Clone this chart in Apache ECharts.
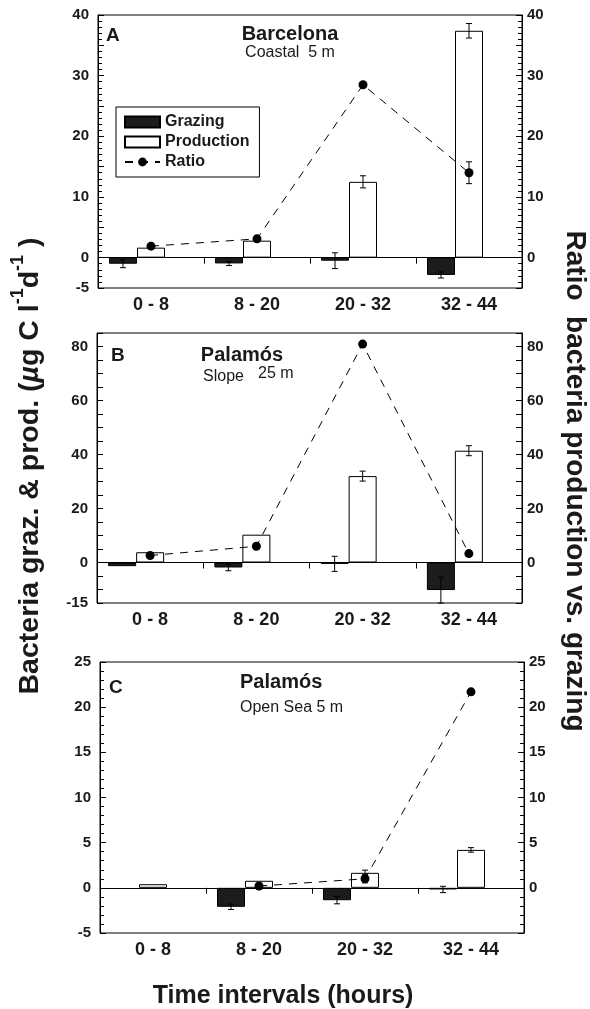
<!DOCTYPE html>
<html>
<head>
<meta charset="utf-8">
<script src="https://cdn.jsdelivr.net/npm/echarts@6/dist/echarts.min.js"></script>
<style>
  html, body { margin: 0; padding: 0; background: #fff; }
  #chart { width: 590px; height: 1009px; }
</style>
</head>
<body>
<div id="chart"></div>
<script>
const categories = ['0 - 8', '8 - 20', '20 - 32', '32 - 44']

// A  Barcelona, coastal 5 m
const grazingA = [-1.0, -0.95, -0.5, -2.85]
const grazingErrA = [0.65, 0.35, 1.3, 0.5]
const productionA = [1.65, 2.8, 12.5, 37.4]
const productionErrA = [null, null, 1.0, 1.2]
const ratioA = [1.9, 3.1, 28.5, 14.0]
const ratioErrA = [null, null, 0.4, 1.8]

// B  Palamós, slope 25 m
const grazingB = [-1.35, -1.85, -0.5, -10.2]
const grazingErrB = [null, 1.2, 2.8, 4.8]
const productionB = [3.8, 10.3, 32.0, 41.4]
const productionErrB = [null, null, 1.85, 1.85]
const ratioB = [2.6, 6.0, 80.9, 3.3]
const ratioErrB = [null, null, null, null]

// C  Palamós, open sea 5 m
const grazingC = [null, -2.1, -1.37, -0.18]
const grazingErrC = [null, 0.3, 0.4, 0.35]
const productionC = [0.4, 0.78, 1.66, 4.2]
const productionErrC = [null, null, 0.3, 0.25]
const ratioC = [null, 0.2, 1.0, 21.7]
const ratioErrC = [null, null, 0.45, null]

const FONT = '"Liberation Sans", Arial, sans-serif'
const BAR_W = 28

const panels = [
  {
    grid: { left: 98, top: 15, width: 424, height: 273 },
    min: -5, max: 40, minor: 5,
    leftLabel: v => (v % 10 === 0 || v === -5) ? String(v) : '',
    rightLabel: v => (v % 10 === 0 && v >= 0) ? String(v) : '',
    grazing: grazingA, grazingErr: grazingErrA,
    production: productionA, productionErr: productionErrA,
    ratio: ratioA, ratioErr: ratioErrA
  },
  {
    grid: { left: 97, top: 333, width: 425, height: 270 },
    min: -15, max: 85, minor: 0,
    leftLabel: v => ((v % 20 === 0 && v >= 0) || v === -15) ? String(v) : '',
    rightLabel: v => (v % 20 === 0 && v >= 0) ? String(v) : '',
    grazing: grazingB, grazingErr: grazingErrB,
    production: productionB, productionErr: productionErrB,
    ratio: ratioB, ratioErr: ratioErrB
  },
  {
    grid: { left: 100, top: 662, width: 424, height: 271 },
    min: -5, max: 25, minor: 5,
    leftLabel: v => String(v),
    rightLabel: v => v >= 0 ? String(v) : '',
    grazing: grazingC, grazingErr: grazingErrC,
    production: productionC, productionErr: productionErrC,
    ratio: ratioC, ratioErr: ratioErrC
  }
]

const errorSeries = (gi, values, errs, offset) => {
  const data = []
  values.forEach((v, i) => {
    if (v != null && errs[i] != null) data.push([i, v - errs[i], v + errs[i]])
  })
  return {
    type: 'custom',
    xAxisIndex: gi * 2,
    yAxisIndex: gi * 2,
    silent: true,
    z: 6,
    data: data,
    encode: { x: 0, y: [1, 2] },
    renderItem: (params, api) => {
      const lo = api.coord([api.value(0), api.value(1)])
      const hi = api.coord([api.value(0), api.value(2)])
      const x = lo[0] + offset
      const st = { stroke: '#000', lineWidth: 1 }
      return {
        type: 'group',
        children: [
          { type: 'line', shape: { x1: x, y1: lo[1], x2: x, y2: hi[1] }, style: st },
          { type: 'line', shape: { x1: x - 3, y1: lo[1], x2: x + 3, y2: lo[1] }, style: st },
          { type: 'line', shape: { x1: x - 3, y1: hi[1], x2: x + 3, y2: hi[1] }, style: st }
        ]
      }
    }
  }
}

const grids = []
const xAxes = []
const yAxes = []
const series = []

panels.forEach((p, gi) => {
  grids.push(Object.assign({ show: true, borderColor: '#000', borderWidth: 1, backgroundColor: 'transparent' }, p.grid))

  xAxes.push({
    type: 'category', gridIndex: gi, data: categories, position: 'bottom',
    axisLine: { show: false }, axisTick: { show: false },
    axisLabel: { color: '#1a1a1a', fontFamily: FONT, fontWeight: 'bold', fontSize: 18, margin: 8 }
  })
  xAxes.push({
    type: 'category', gridIndex: gi, data: categories, position: 'top',
    axisLine: { show: false }, axisLabel: { show: false },
    axisTick: { show: true, inside: true, length: 6, lineStyle: { color: '#000' } }
  })

  const yBase = {
    type: 'value', gridIndex: gi, min: p.min, max: p.max, interval: 5,
    splitLine: { show: false },
    axisLine: { show: true, lineStyle: { color: '#000', width: 1 } },
    axisTick: { show: true, inside: true, length: 6, lineStyle: { color: '#000', width: 1 } },
    minorTick: { show: p.minor > 0, splitNumber: p.minor || 5, length: 4, lineStyle: { color: '#000', width: 1 } },
    minorSplitLine: { show: false }
  }
  yAxes.push(Object.assign({}, yBase, {
    position: 'left',
    axisLabel: { formatter: p.leftLabel, color: '#1a1a1a', fontFamily: FONT, fontWeight: 'bold', fontSize: 15, margin: 9, showMinLabel: true, showMaxLabel: true }
  }))
  yAxes.push(Object.assign({}, yBase, {
    position: 'right',
    axisLabel: { formatter: p.rightLabel, color: '#1a1a1a', fontFamily: FONT, fontWeight: 'bold', fontSize: 15, margin: 5, showMinLabel: true, showMaxLabel: true }
  }))

  series.push({
    name: 'Grazing', type: 'bar', xAxisIndex: gi * 2, yAxisIndex: gi * 2,
    data: p.grazing, barWidth: BAR_W, barGap: 0,
    itemStyle: { color: '#1c1c1c', borderColor: '#000', borderWidth: 1 },
    silent: true
  })
  series.push({
    name: 'Production', type: 'bar', xAxisIndex: gi * 2, yAxisIndex: gi * 2,
    data: p.production, barWidth: BAR_W, barGap: 0,
    itemStyle: { color: '#fff', borderColor: '#000', borderWidth: 1 },
    silent: true,
    markLine: {
      silent: true, symbol: 'none', label: { show: false },
      lineStyle: { color: '#000', width: 1, type: 'solid' },
      data: [{ yAxis: 0 }]
    }
  })
  // empty slot so the production bar sits on the category centre
  series.push({
    name: 'spacer', type: 'bar', xAxisIndex: gi * 2, yAxisIndex: gi * 2,
    data: categories.map(() => null), barWidth: BAR_W, barGap: 0
  })

  series.push(errorSeries(gi, p.grazing, p.grazingErr, -BAR_W))
  series.push(errorSeries(gi, p.production, p.productionErr, 0))
  series.push(errorSeries(gi, p.ratio, p.ratioErr, 0))

  series.push({
    name: 'Ratio', type: 'line', xAxisIndex: gi * 2, yAxisIndex: gi * 2 + 1,
    data: p.ratio, connectNulls: false,
    symbol: 'circle', symbolSize: 9,
    itemStyle: { color: '#000' },
    lineStyle: { color: '#000', width: 1, type: [8, 7] },
    z: 7, silent: true
  })
})

const txt = (text, x, y, size, weight, extra) => ({
  type: 'text', x: x, y: y,
  style: Object.assign({ text: text, fill: '#1a1a1a', fontFamily: FONT, fontSize: size, fontWeight: weight, align: 'left', verticalAlign: 'top' }, extra || {})
})

const chart = echarts.init(document.getElementById('chart'), null, { renderer: 'canvas' })

chart.setOption({
  backgroundColor: '#fff',
  animation: false,
  grid: grids,
  xAxis: xAxes,
  yAxis: yAxes,
  series: series,
  legend: {
    data: [{ name: 'Grazing', icon: 'rect' }, { name: 'Production', icon: 'rect' }, { name: 'Ratio' }],
    orient: 'vertical', left: 116, top: 107,
    itemWidth: 35, itemHeight: 11, itemGap: 4,
    borderColor: '#000', borderWidth: 1, padding: [7, 10, 7, 8],
    backgroundColor: '#fff',
    selectedMode: false,
    textStyle: { color: '#1a1a1a', fontFamily: FONT, fontWeight: 'bold', fontSize: 16 }
  },
  graphic: [
    // panel A
    txt('A', 106, 26, 19, 'bold'),
    txt('Barcelona', 290, 24, 20, 'bold', { align: 'center' }),
    txt('Coastal  5 m', 290, 45, 16, 'normal', { align: 'center' }),
    // panel B
    txt('B', 111, 346, 19, 'bold'),
    txt('Palamós', 242, 345, 20, 'bold', { align: 'center' }),
    txt('Slope', 203, 369, 16, 'normal'),
    txt('25 m', 258, 366, 16, 'normal'),
    // panel C
    txt('C', 109, 678, 19, 'bold'),
    txt('Palamós', 240, 672, 20, 'bold'),
    txt('Open Sea 5 m', 240, 700, 16, 'normal'),
    // axis titles
    {
      type: 'text', x: 27, y: 466, rotation: Math.PI / 2,
      style: {
        text: '{a|Bacteria graz. & prod. (}{m|µ}{a|g C l}{s|-1}{a|d}{s|-1}{a| )}',
        align: 'center', verticalAlign: 'middle',
        rich: {
          a: { fontFamily: FONT, fontWeight: 'bold', fontSize: 28.5, fill: '#1a1a1a', lineHeight: 36, verticalAlign: 'bottom' },
          m: { fontFamily: FONT, fontWeight: 'bold', fontStyle: 'italic', fontSize: 28.5, fill: '#1a1a1a', lineHeight: 36, verticalAlign: 'bottom' },
          s: { fontFamily: FONT, fontWeight: 'bold', fontSize: 18, fill: '#1a1a1a', lineHeight: 36, verticalAlign: 'top' }
        }
      }
    },
    {
      type: 'text', x: 575, y: 481, rotation: -Math.PI / 2,
      style: {
        text: 'Ratio  bacteria production vs. grazing',
        fill: '#1a1a1a', fontFamily: FONT, fontWeight: 'bold', fontSize: 28,
        align: 'center', verticalAlign: 'middle'
      }
    },
    txt('Time intervals (hours)', 283, 984, 25, 'bold', { align: 'center' })
  ]
})
</script>
</body>
</html>
